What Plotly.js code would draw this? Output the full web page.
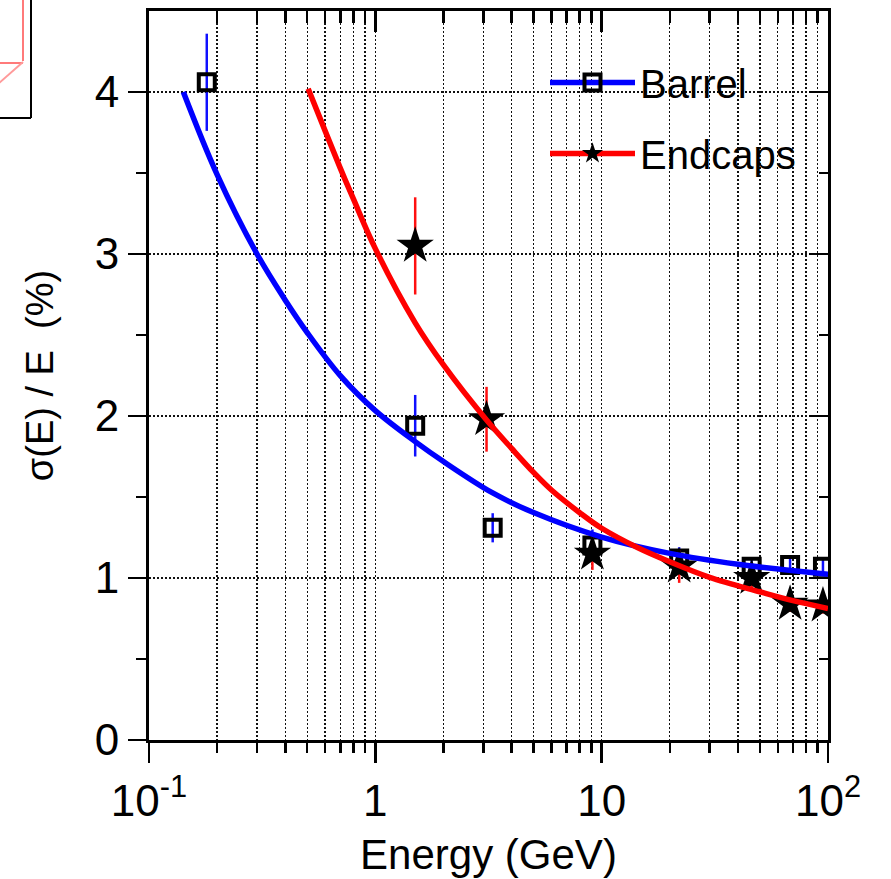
<!DOCTYPE html>
<html>
<head>
<meta charset="utf-8">
<script src="https://cdn.plot.ly/plotly-3.0.1.min.js"></script>
<style>html,body{margin:0;padding:0;background:#fff;}#chart{width:891px;height:879px;}</style>
</head>
<body>
<div id="chart"></div>
<script>
// ---- data ----
const barrelE   = [0.18, 1.5, 3.3, 9.1, 22, 46, 68, 95];
const barrelRes = [4.06, 1.94, 1.31, 1.20, 1.12, 1.07, 1.08, 1.07];
const barrelErr = [0.30, 0.19, 0.09, 0.10, 0.07, 0.05, 0.05, 0.05];

const endcapE   = [1.5, 3.1, 9.1, 22, 46, 68, 95];
const endcapRes = [3.05, 1.98, 1.15, 1.07, 1.00, 0.84, 0.83];
const endcapErr = [0.30, 0.20, 0.10, 0.10, 0.06, 0.05, 0.05];

const barrelFitE   = [0.1418, 0.2, 0.3, 0.4, 0.5, 0.7, 1.0, 1.5, 2.0, 3.3, 5.0, 10, 20, 40, 100];
const barrelFitRes = [4.00, 3.49, 3.00, 2.715, 2.515, 2.249, 2.033, 1.842, 1.719, 1.525, 1.404, 1.253, 1.152, 1.085, 1.023];

const endcapFitE   = [0.505, 0.6, 0.7, 0.8, 1.0, 1.5, 2.0, 3.1, 4.0, 5.0, 6.0, 8.0, 10, 14.3, 20, 30, 50, 70, 100];
const endcapFitRes = [4.02, 3.76, 3.53, 3.34, 3.033, 2.575, 2.315, 1.975, 1.80, 1.652, 1.543, 1.403, 1.307, 1.19, 1.10, 1.004, 0.915, 0.86, 0.812];

const xMajorVals = [0.1, 1, 10, 100];
const xMajorText = ['10<sup>-1</sup>', '1', '10', '10<sup>2</sup>'];
const xMinorVals = [0.2,0.3,0.4,0.5,0.6,0.7,0.8,0.9, 2,3,4,5,6,7,8,9, 20,30,40,50,60,70,80,90];
const yMajorVals = [0, 1, 2, 3, 4];
const yMinorVals = [0.5, 1.5, 2.5, 3.5];

const seriesNames = ['Barrel', 'Endcaps'];
const xTitle = 'Energy (GeV)';
const yTitle = 'σ(E) / E  (%)';

// ---- traces ----
const sqMarker = {symbol: 'square-open', size: 16, color: 'black', line: {width: 4, color: 'black'}};
const starMarker = {symbol: 'star', size: 28, color: 'black', line: {width: 0}};

const traces = [
  {x: barrelE, y: barrelRes, mode: 'markers', type: 'scatter', showlegend: false, marker: sqMarker,
   error_y: {type: 'data', array: barrelErr, visible: true, color: '#1010ff', thickness: 2.5, width: 0}},
  {x: endcapE, y: endcapRes, mode: 'markers', type: 'scatter', showlegend: false, marker: starMarker,
   error_y: {type: 'data', array: endcapErr, visible: true, color: '#ff1010', thickness: 2.5, width: 0}},
  {x: barrelFitE, y: barrelFitRes, mode: 'lines', type: 'scatter', showlegend: false,
   line: {color: '#0000ff', width: 5.5, shape: 'spline', smoothing: 1}},
  {x: endcapFitE, y: endcapFitRes, mode: 'lines', type: 'scatter', showlegend: false,
   line: {color: '#ff0000', width: 5.5, shape: 'spline', smoothing: 1}},
  {x: [null], y: [null], mode: 'lines+markers', type: 'scatter', name: seriesNames[0], legendgroup: 'b',
   line: {color: '#0000ff', width: 5.5}, marker: sqMarker},
  {x: [null], y: [null], mode: 'lines+markers', type: 'scatter', name: seriesNames[1], legendgroup: 'e',
   line: {color: '#ff0000', width: 5.5}, marker: starMarker},
  {x: [], y: [], xaxis: 'x2', yaxis: 'y2', type: 'scatter', mode: 'markers', showlegend: false, hoverinfo: 'skip'}
];

// paper helpers for the cropped inset in the corner
const L = 149, T = 11, W = 679, H = 729;
const px = p => (p - L) / W;
const py = p => 1 - (p - T) / H;

const gridDash = '2px,2px';
const gridCol = '#111';
const gridW = 1.3;

const layout = {
  width: 891, height: 879,
  margin: {l: L, r: 891 - L - W, t: T, b: 879 - T - H},
  paper_bgcolor: 'white', plot_bgcolor: 'white',
  font: {family: 'Liberation Sans, Arial, Helvetica, sans-serif', color: 'black'},
  showlegend: true,
  legend: {x: px(545), y: py(50), xanchor: 'left', yanchor: 'top', bgcolor: 'rgba(0,0,0,0)',
           borderwidth: 0, font: {size: 40, color: 'black'}, tracegroupgap: 16, itemwidth: 85},
  xaxis: {
    type: 'log', range: [-1, 2], tickmode: 'array', tickvals: xMajorVals, ticktext: xMajorText,
    ticks: 'outside', ticklen: 20, tickwidth: 2.5, tickcolor: 'black',
    showline: true, linewidth: 3, linecolor: 'black', mirror: false, zeroline: false,
    showgrid: true, gridcolor: gridCol, gridwidth: gridW, griddash: gridDash,
    tickfont: {size: 44, color: 'black'}, automargin: false,
    minor: {tickmode: 'array', tickvals: xMinorVals, ticks: 'outside', ticklen: 10, tickwidth: 2.5, tickcolor: 'black',
            showgrid: true, gridcolor: gridCol, gridwidth: gridW, griddash: gridDash},
    title: {text: xTitle, font: {size: 42, color: 'black'}, standoff: 16}
  },
  xaxis2: {
    type: 'log', range: [-1, 2], overlaying: 'x', side: 'top', anchor: 'y',
    tickmode: 'array', tickvals: xMajorVals, showticklabels: false,
    ticks: 'inside', ticklen: 21, tickwidth: 2.5, tickcolor: 'black',
    showline: true, linewidth: 3, linecolor: 'black', showgrid: false, zeroline: false,
    minor: {tickmode: 'array', tickvals: xMinorVals, ticks: 'inside', ticklen: 12, tickwidth: 2.5, tickcolor: 'black', showgrid: false}
  },
  yaxis: {
    range: [0, 4.5], tickmode: 'array', tickvals: yMajorVals,
    ticks: 'outside', ticklen: 18, tickwidth: 2.5, tickcolor: 'black',
    showline: true, linewidth: 3, linecolor: 'black', zeroline: false,
    showgrid: true, gridcolor: gridCol, gridwidth: gridW, griddash: gridDash,
    tickfont: {size: 44, color: 'black'}, automargin: false,
    minor: {tickmode: 'array', tickvals: yMinorVals, ticks: 'outside', ticklen: 10, tickwidth: 2.5, tickcolor: 'black', showgrid: false},
    title: {text: yTitle, font: {size: 38, color: 'black'}, standoff: 30}
  },
  yaxis2: {
    range: [0, 4.5], overlaying: 'y', side: 'right', anchor: 'x',
    tickmode: 'array', tickvals: yMajorVals, showticklabels: false,
    ticks: 'inside', ticklen: 19, tickwidth: 2.5, tickcolor: 'black',
    showline: true, linewidth: 3, linecolor: 'black', showgrid: false, zeroline: false,
    minor: {tickmode: 'array', tickvals: yMinorVals, ticks: 'inside', ticklen: 9, tickwidth: 2.5, tickcolor: 'black', showgrid: false}
  },
  shapes: [
    {type: 'line', xref: 'paper', yref: 'paper', x0: px(31), x1: px(31), y0: py(-2), y1: py(118), line: {color: 'black', width: 2}},
    {type: 'line', xref: 'paper', yref: 'paper', x0: px(-2), x1: px(31), y0: py(118), y1: py(118), line: {color: 'black', width: 2}},
    {type: 'line', xref: 'paper', yref: 'paper', x0: px(23), x1: px(23), y0: py(-2), y1: py(61), line: {color: '#ff7a7a', width: 2}},
    {type: 'line', xref: 'paper', yref: 'paper', x0: px(-2), x1: px(23), y0: py(63), y1: py(63), line: {color: '#ff7a7a', width: 2}},
    {type: 'line', xref: 'paper', yref: 'paper', x0: px(23), x1: px(-2), y0: py(62), y1: py(84), line: {color: '#ff9a9a', width: 2}}
  ]
};

Plotly.newPlot('chart', traces, layout, {displayModeBar: false, staticPlot: true});
</script>
</body>
</html>
